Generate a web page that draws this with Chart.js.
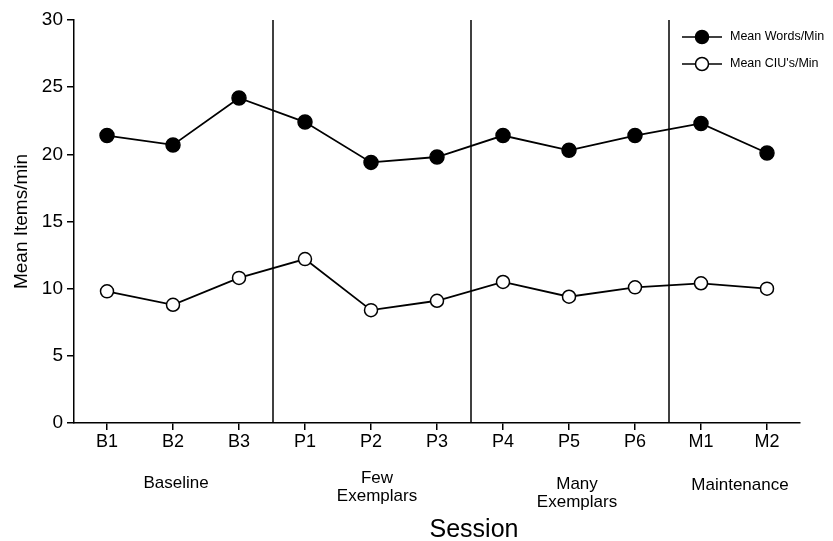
<!DOCTYPE html>
<html>
<head>
<meta charset="utf-8">
<script src="https://cdn.jsdelivr.net/npm/chart.js@4.4.1/dist/chart.umd.min.js"></script>
<style>
  html, body { margin: 0; padding: 0; background: #fff; }
  #wrap { width: 833px; height: 541px; }
</style>
</head>
<body>
<div id="wrap"><canvas id="sessionChart" width="833" height="541"></canvas></div>
<script>
// valores
const sessions = ['B1', 'B2', 'B3', 'P1', 'P2', 'P3', 'P4', 'P5', 'P6', 'M1', 'M2'];
const wordsPerMin = [21.4, 20.7, 24.2, 22.4, 19.4, 19.8, 21.4, 20.3, 21.4, 22.3, 20.1];
const ciusPerMin = [9.8, 8.8, 10.8, 12.2, 8.4, 9.1, 10.5, 9.4, 10.1, 10.4, 10.0];
const yTicks = [0, 5, 10, 15, 20, 25, 30];

// fases: primeira e última sessão de cada uma
const phaseLabels = [['Baseline'], ['Few', 'Exemplars'], ['Many', 'Exemplars'], ['Maintenance']];
const phaseFirst = [0, 3, 6, 9];
const phaseLast = [2, 5, 8, 10];
const phaseLabelY = [488, 483, 489, 490];
const phaseLabelDx = [3, 6, 8, 6];

const FONT = "'Liberation Sans', Arial, Helvetica, sans-serif";

// linhas verticais entre fases, rótulos das fases e legenda
const phasePlugin = {
  id: 'phasePlugin',
  afterDatasetsDraw(chart) {
    const { ctx, chartArea, scales } = chart;
    const x = scales.x;
    ctx.save();
    ctx.strokeStyle = '#000';
    ctx.lineWidth = 1.5;
    phaseFirst.slice(1).forEach(idx => {
      const px = (x.getPixelForValue(idx - 1) + x.getPixelForValue(idx)) / 2 + 1;
      ctx.beginPath();
      ctx.moveTo(px, chartArea.top);
      ctx.lineTo(px, chartArea.bottom);
      ctx.stroke();
    });

    ctx.fillStyle = '#000';
    ctx.textAlign = 'center';
    ctx.textBaseline = 'alphabetic';
    ctx.font = '17px ' + FONT;
    phaseLabels.forEach((lines, i) => {
      const cx = (x.getPixelForValue(phaseFirst[i]) + x.getPixelForValue(phaseLast[i])) / 2 + phaseLabelDx[i];
      lines.forEach((txt, j) => ctx.fillText(txt, cx, phaseLabelY[i] + j * 18));
    });

    ctx.font = '25px ' + FONT;
    ctx.fillText('Session', 474, 537);

    // legenda
    const items = [
      { label: 'Mean Words/Min', fill: '#000', y: 37 },
      { label: "Mean CIU's/Min", fill: '#fff', y: 64 }
    ];
    ctx.textAlign = 'left';
    ctx.textBaseline = 'middle';
    ctx.font = '12.5px ' + FONT;
    items.forEach(it => {
      ctx.beginPath();
      ctx.lineWidth = 1.5;
      ctx.moveTo(682, it.y);
      ctx.lineTo(722, it.y);
      ctx.stroke();
      ctx.beginPath();
      ctx.arc(702, it.y, 6.5, 0, Math.PI * 2);
      ctx.fillStyle = it.fill;
      ctx.fill();
      ctx.stroke();
      ctx.fillStyle = '#000';
      ctx.fillText(it.label, 730, it.y);
    });
    ctx.restore();
  }
};

const canvas = document.getElementById('sessionChart');
const ctx = canvas.getContext('2d');
new Chart(ctx, {
  type: 'line',
  data: {
    labels: sessions,
    datasets: [
      {
        label: 'Mean Words/Min',
        data: wordsPerMin,
        borderColor: '#000',
        backgroundColor: '#000',
        pointBackgroundColor: '#000',
        pointBorderColor: '#000',
        pointRadius: 7,
        pointBorderWidth: 1.5,
        borderWidth: 1.8,
        tension: 0
      },
      {
        label: "Mean CIU's/Min",
        data: ciusPerMin,
        borderColor: '#000',
        backgroundColor: '#fff',
        pointBackgroundColor: '#fff',
        pointBorderColor: '#000',
        pointRadius: 6.5,
        pointBorderWidth: 1.5,
        borderWidth: 1.8,
        tension: 0
      }
    ]
  },
  options: {
    responsive: false,
    animation: false,
    layout: { padding: { top: 20, right: 33, left: 0, bottom: 0 } },
    plugins: {
      legend: { display: false },
      tooltip: { enabled: false }
    },
    scales: {
      x: {
        type: 'category',
        offset: true,
        grid: { display: true, drawOnChartArea: false, drawTicks: true, tickLength: 7, color: '#000', offset: false, lineWidth: 1.5 },
        border: { color: '#000', width: 1.5 },
        ticks: { color: '#000', font: { family: FONT, size: 18 }, padding: 1, maxRotation: 0, autoSkip: false },
        afterFit(scale) { scale.height = 118; }
      },
      y: {
        min: 0,
        max: 30,
        afterBuildTicks(scale) { scale.ticks = yTicks.map(v => ({ value: v })); },
        grid: { display: true, drawOnChartArea: false, drawTicks: true, tickLength: 7, color: '#000', lineWidth: 1.5 },
        border: { color: '#000', width: 1.5 },
        ticks: { color: '#000', font: { family: FONT, size: 19 }, padding: 4 },
        title: { display: true, text: 'Mean Items/min', color: '#000', font: { family: FONT, size: 19 }, padding: { top: 10, bottom: 0 } },
        afterFit(scale) { scale.width = 74; }
      }
    }
  },
  plugins: [phasePlugin]
});
</script>
</body>
</html>
